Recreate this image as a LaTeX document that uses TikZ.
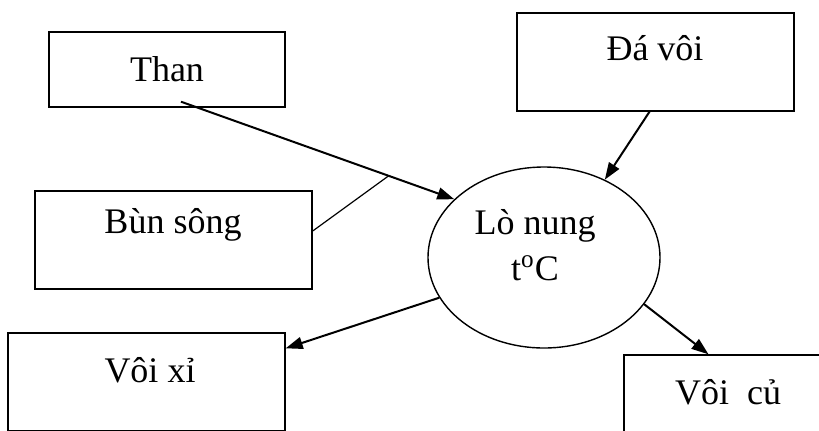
\documentclass[tikz,border=0pt]{standalone}
\usepackage{fontspec}
\setmainfont{Liberation Serif}
\usetikzlibrary{arrows.meta,calc,shapes.geometric}
\tikzset{
  box/.style={draw, line width=0.7pt, rectangle, inner sep=0pt},
  flow/.style={-{Triangle[length=8.5pt,width=6pt]}, line width=1pt},
}
\begin{document}
\begin{tikzpicture}[x=0.5pt, y=-0.5pt, font=\fontsize{18}{23}\selectfont]
    \useasboundingbox (0,0) rectangle (819,430);
    \clip (0,0) rectangle (819,430);
    % Draw boxes for the inputs
    \node[box, minimum width=118pt, minimum height=37.5pt] (than) at (167,69.5) {Than};
    \node[box, minimum width=138.5pt, minimum height=49pt] (bunsong) at (173.5,240) {};
    \node (bunsongtext) at (173,225) {Bùn sông};
    \node[box, minimum width=138.5pt, minimum height=49pt] (davoi) at (655.5,62) {};
    \node (davoitext) at (655,48) {Đá vôi};
    % Draw the kiln
    \node[draw, ellipse, line width=0.7pt, inner sep=0pt, minimum width=116pt, minimum height=90.5pt] (lo) at (544,257.5) {};
    \node[align=center] (lotext) at (535,245) {Lò nung\\t\textsuperscript{o}C};
    % Draw boxes for the outputs
    \node[box, minimum width=138.5pt, minimum height=49pt] (voixi) at (146.5,382) {};
    \node (voixitext) at (150,370) {Vôi xỉ};
    \node[box, minimum width=138.5pt, minimum height=49pt] (voicu) at (762.5,404) {};
    \node (voicutext) at (728,392) {Vôi\ \ củ};

    % Draw all connectors
    \coordinate (thanout) at ([xshift=7pt,yshift=3pt]than.south);
    \draw[flow] (thanout) -- (lo.147); % Than into the kiln
    \coordinate (mix) at ($(thanout)!0.76!(lo.147)$);
    \draw[line width=0.6pt] ([yshift=4.5pt]bunsong.east) -- (mix); % Bun song joins
    \draw[flow] ([xshift=-3pt]davoi.south) -- (lo.52);
    \draw[flow] (lo.201) -- ([yshift=-8pt]voixi.north east);
    \draw[flow] (lo.335) -- ([xshift=-27pt]voicu.north);

\end{tikzpicture}
\end{document}
